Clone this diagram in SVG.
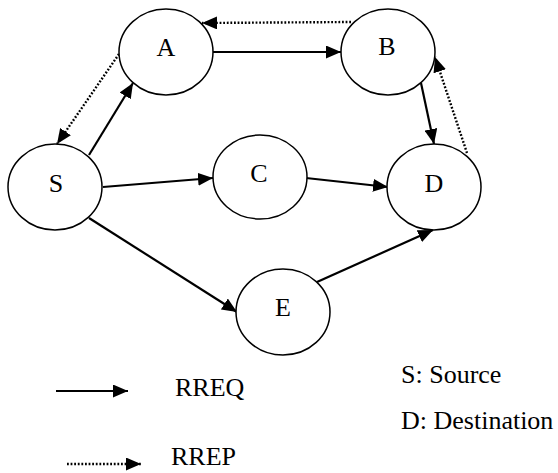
<svg xmlns="http://www.w3.org/2000/svg" width="558" height="473" viewBox="0 0 558 473">
<defs>
<marker id="ah" viewBox="0 0 15 13" refX="15" refY="6.5" markerWidth="15" markerHeight="13" markerUnits="userSpaceOnUse" orient="auto">
<path d="M0,0 L15,6.5 L0,13 Z" fill="#000"/>
</marker>
</defs>
<style>
.node ellipse{fill:#fff;stroke:#000;stroke-width:1.5}
.req{stroke:#000;stroke-width:2.2;fill:none;marker-end:url(#ah)}
.rep{stroke:#000;stroke-width:2.4;stroke-dasharray:1.8 1.8;fill:none;marker-end:url(#ah)}
</style>
<rect width="558" height="473" fill="#fff"/>
<g id="connectors">
<line class="req" x1="213" y1="52" x2="341" y2="52"/>
<line class="req" x1="89" y1="155" x2="133" y2="83"/>
<line class="req" x1="103" y1="187" x2="213" y2="178"/>
<line class="req" x1="89" y1="218" x2="237" y2="312"/>
<line class="req" x1="306" y1="178" x2="388" y2="187"/>
<line class="req" x1="421" y1="83" x2="434" y2="144"/>
<line class="req" x1="317" y1="282" x2="433" y2="230"/>
<line class="rep" x1="351" y1="22" x2="202" y2="23"/>
<line class="rep" x1="119" y1="54" x2="57" y2="144"/>
<line class="rep" x1="467" y1="153" x2="435" y2="57"/>
<line class="req" x1="56" y1="391" x2="128" y2="391"/>
<line class="rep" x1="67" y1="464" x2="141" y2="464"/>
</g>
<g font-family="'Liberation Serif', 'Times New Roman', serif" font-size="26" fill="#000">
<g id="node-A" class="node" text-anchor="middle"><ellipse cx="166" cy="52" rx="47" ry="43"/><text x="166" y="56">A</text></g>
<g id="node-B" class="node" text-anchor="middle"><ellipse cx="388" cy="52" rx="47" ry="43"/><text x="387" y="55">B</text></g>
<g id="node-S" class="node" text-anchor="middle"><ellipse cx="55" cy="187" rx="47" ry="43"/><text x="56" y="192">S</text></g>
<g id="node-C" class="node" text-anchor="middle"><ellipse cx="260" cy="177" rx="47" ry="42"/><text x="259" y="182">C</text></g>
<g id="node-D" class="node" text-anchor="middle"><ellipse cx="434" cy="187" rx="47" ry="43"/><text x="434" y="192">D</text></g>
<g id="node-E" class="node" text-anchor="middle"><ellipse cx="283" cy="312" rx="47" ry="43"/><text x="283" y="316">E</text></g>
<g id="legend">
<text x="175" y="396">RREQ</text>
<text x="171" y="465">RREP</text>
<text x="401" y="383">S: Source</text>
<text x="401" y="429">D: Destination</text>
</g>
</g>
</svg>
